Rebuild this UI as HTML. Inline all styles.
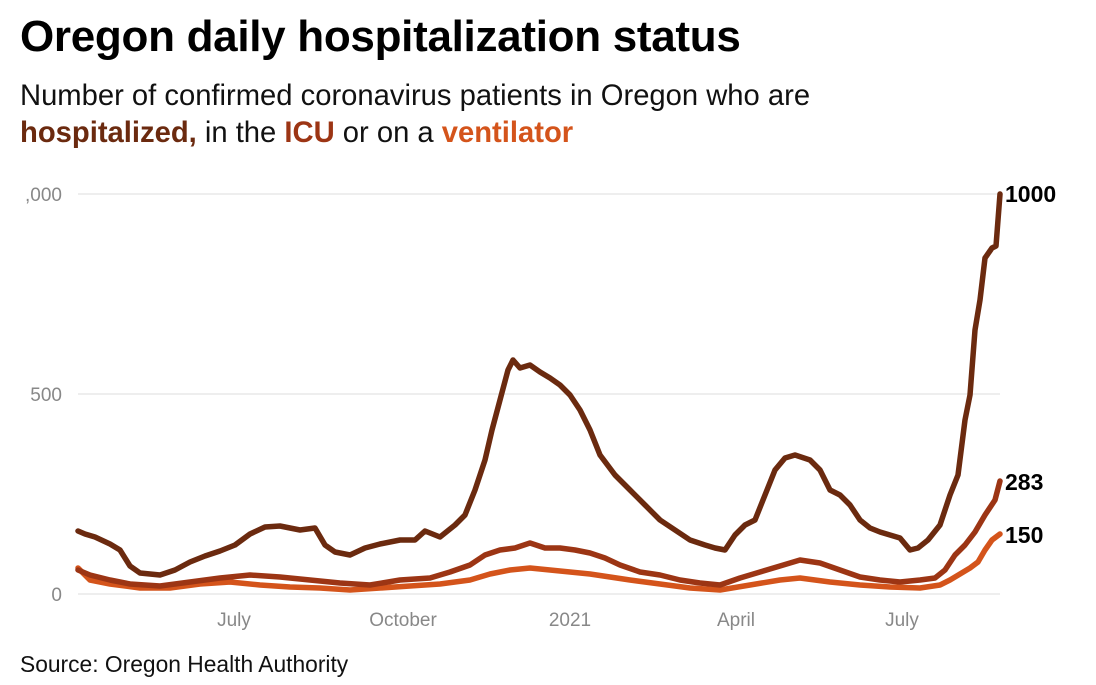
<!DOCTYPE html>
<html><head><meta charset="utf-8"><style>
body{margin:0;width:1096px;height:685px;background:#fff;font-family:"Liberation Sans",sans-serif;overflow:hidden;position:relative}
.t{position:absolute;left:20px;top:12px;font-size:44px;font-weight:bold;color:#000;letter-spacing:-0.3px}
.s{position:absolute;left:20px;top:78px;font-size:29.2px;line-height:37px;color:#111}
.src{position:absolute;left:20px;top:651px;font-size:22.8px;color:#111}
</style></head><body>
<div class="t">Oregon daily hospitalization status</div>
<div class="s">Number of confirmed coronavirus patients in Oregon who are<br><b style="color:#6b2a0f">hospitalized,</b> in the <b style="color:#9c3514">ICU</b> or on a <b style="color:#d4541b">ventilator</b></div>
<svg width="1096" height="685" style="position:absolute;left:0;top:0">
<g stroke="#e8e8e8" stroke-width="1.5"><line x1="78" y1="194" x2="1000" y2="194"/><line x1="78" y1="394" x2="1000" y2="394"/><line x1="78" y1="594" x2="1000" y2="594"/></g>
<g font-family="Liberation Sans" font-size="19" fill="#888" text-anchor="end"><text x="62" y="201">,000</text><text x="62" y="401">500</text><text x="62" y="601">0</text></g>
<g font-family="Liberation Sans" font-size="19" fill="#888" text-anchor="middle"><text x="234" y="626">July</text><text x="403" y="626">October</text><text x="570" y="626">2021</text><text x="736" y="626">April</text><text x="902" y="626">July</text></g>
<g fill="none" stroke-width="5.5" stroke-linejoin="round" stroke-linecap="round">
<polyline stroke="#d4541b" points="78,568 90,580 110,584 140,588 170,588 200,584 230,582 260,585 290,587 320,588 350,590 380,588 410,586 440,584 470,580 490,574 510,570 530,568 550,570 570,572 590,574 610,577 630,580 660,584 690,588 720,590 750,585 780,580 800,578 830,582 860,585 890,587 920,588 940,585 950,580 960,574 970,568 978,562 985,550 992,540 1000,534"/>
<polyline stroke="#9c3514" points="78,570 90,575 110,580 130,584 160,586 190,582 220,578 250,575 280,577 310,580 340,583 370,585 400,580 430,578 450,572 470,565 485,555 500,550 515,548 530,543 545,548 560,548 575,550 590,553 605,558 620,565 640,572 660,575 680,580 700,583 720,585 740,578 760,572 780,566 800,560 820,563 840,570 860,577 880,580 900,582 920,580 935,578 945,570 955,555 965,545 975,532 985,515 995,500 1000,481"/>
<polyline stroke="#6b2a0f" points="78,531 85,534 95,537 110,544 120,550 130,566 140,573 160,575 175,570 190,562 205,556 220,551 235,545 250,534 265,527 280,526 300,530 315,528 325,545 335,552 350,555 365,548 380,544 400,540 415,540 425,531 440,537 455,525 465,515 475,490 485,460 492,430 500,400 508,370 513,360 520,368 530,365 540,372 550,378 560,385 570,395 580,410 590,430 600,455 615,475 630,490 645,505 660,520 675,530 690,540 705,545 715,548 725,550 735,535 745,525 755,520 765,495 775,470 785,458 795,455 810,460 820,470 830,490 840,495 850,505 860,520 870,528 880,532 890,535 900,538 910,550 918,548 928,540 940,525 950,495 958,475 965,420 970,395 975,330 980,300 985,258 992,248 996,246 1000,194"/>
</g>
<g font-family="Liberation Sans" font-size="23" font-weight="bold" fill="#000"><text x="1005" y="202">1000</text><text x="1005" y="490">283</text><text x="1005" y="543">150</text></g>
</svg>
<div class="src">Source: Oregon Health Authority</div>
</body></html>
